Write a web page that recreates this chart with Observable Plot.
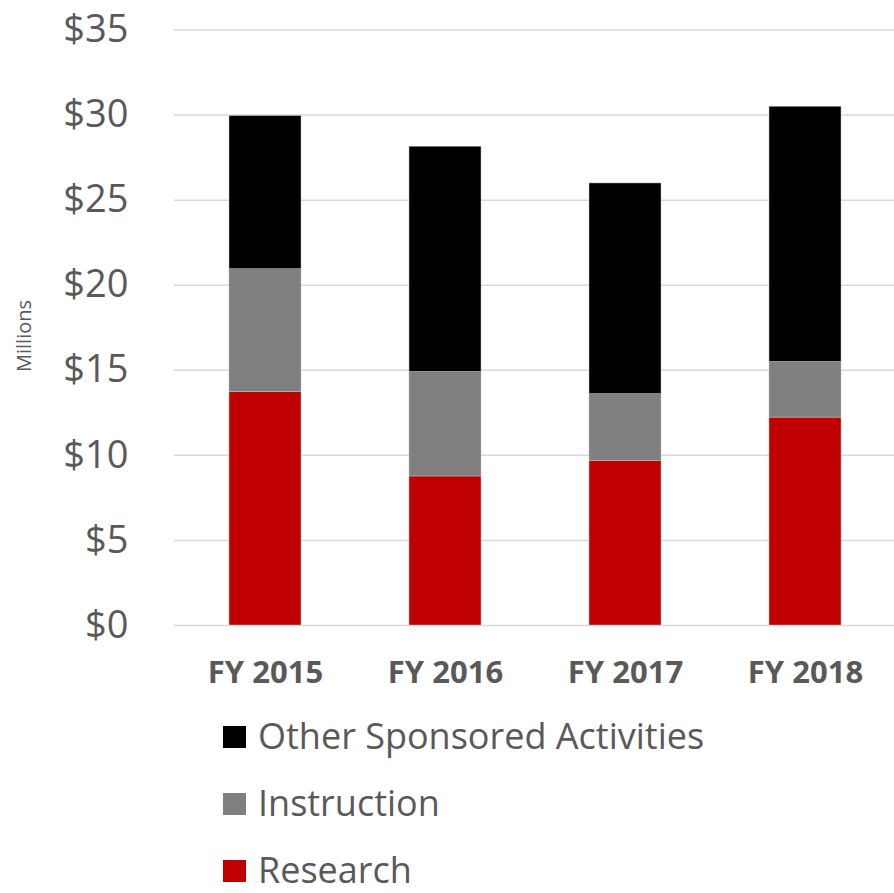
<!DOCTYPE html>
<html>
<head>
<meta charset="utf-8">
<script src="https://cdn.jsdelivr.net/npm/d3@7"></script>
<script src="https://cdn.jsdelivr.net/npm/@observablehq/plot@0.6"></script>
<style>
  html, body { margin: 0; padding: 0; background: #fff; }
  body { position: relative; width: 894px; height: 893px; overflow: hidden; font-family: "Open Sans", sans-serif; }
  #legend { margin-top: 3px; padding-left: 223px; }
  .row { height: 67px; display: flex; align-items: center; font-size: 36px; line-height: 0.9; color: #595959; }
  .sw { width: 23px; height: 22px; margin-right: 12px; flex: none; }
  #units { position: absolute; left: 24px; top: 336px; font-size: 20px; line-height: 1; color: #595959;
           transform: translate(-50%, -50%) rotate(-90deg); white-space: nowrap; }
</style>
</head>
<body>
<div id="chart"></div>
<div id="legend"></div>
<div id="units">Millions</div>
<script>
const years = ["FY 2015", "FY 2016", "FY 2017", "FY 2018"];
const seriesNames = ["Research", "Instruction", "Other Sponsored Activities"];
const research = [13.72, 8.76, 9.66, 12.22];
const instruction = [7.22, 6.14, 3.94, 3.27];
const other = [9.0, 13.24, 12.38, 15.0];
const seriesColors = ["#c00000", "#7f7f7f", "#000000"];
const yTicks = [0, 5, 10, 15, 20, 25, 30, 35];

const seriesValues = [research, instruction, other];
const data = [];
seriesNames.forEach((s, si) => {
  years.forEach((y, yi) => data.push({year: y, series: s, value: seriesValues[si][yi]}));
});

const chart = Plot.plot({
  width: 894,
  height: 700,
  marginTop: 29.5,
  marginBottom: 75,
  marginLeft: 174,
  marginRight: 0,
  style: {fontFamily: "Open Sans", color: "#595959", background: "#fff"},
  x: {domain: years, paddingInner: 0.6, paddingOuter: 0.3, range: [174, 896]},
  y: {domain: [0, 35]},
  color: {domain: seriesNames, range: seriesColors},
  marks: [
    Plot.ruleY(yTicks, {stroke: "#d9d9d9", strokeWidth: 1.5}),
    Plot.barY(data, {x: "year", y: "value", fill: "series", order: seriesNames, stroke: "#bfbfbf", strokeWidth: 0.5}),
    Plot.axisY({ticks: yTicks, tickSize: 0, tickPadding: 46, tickFormat: d => "$" + d,
      fontSize: 38, fill: "#595959", label: null}),
    Plot.axisX({tickSize: 0, tickPadding: 35, fontSize: 31, fontWeight: "bold", fill: "#595959", label: null})
  ]
});
document.getElementById("chart").appendChild(chart);

const legend = document.getElementById("legend");
[2, 1, 0].forEach(i => {
  const row = document.createElement("div");
  row.className = "row";
  const sw = document.createElement("div");
  sw.className = "sw";
  sw.style.background = seriesColors[i];
  const label = document.createElement("span");
  label.textContent = seriesNames[i];
  row.appendChild(sw);
  row.appendChild(label);
  legend.appendChild(row);
});
</script>
</body>
</html>
